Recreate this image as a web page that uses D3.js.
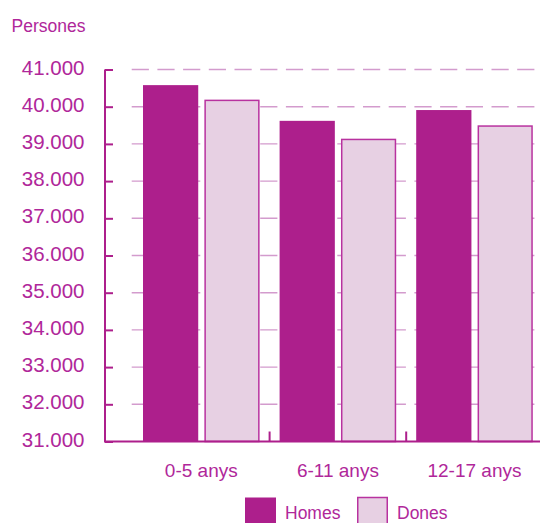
<!DOCTYPE html>
<html>
<head>
<meta charset="utf-8">
<script src="https://cdn.jsdelivr.net/npm/d3@7"></script>
<style>
  html, body { margin: 0; padding: 0; background: #ffffff; }
  svg { display: block; }
  .txt { font-family: "Liberation Sans", Arial, sans-serif; fill: #b0279a; }
  .num { font-family: "Liberation Sans", Arial, sans-serif; fill: #b0279a; }
</style>
</head>
<body>
<svg id="chart" width="540" height="523"></svg>
<script>
// Population by age group and sex
const categories = ["0-5 anys", "6-11 anys", "12-17 anys"];
const seriesNames = ["Homes", "Dones"];
const homes = [40580, 39620, 39910];
const dones = [40190, 39140, 39500];
const yTicks = [31000, 32000, 33000, 34000, 35000, 36000, 37000, 38000, 39000, 40000, 41000];
const yTitle = "Persones";

const MAGENTA = "#ad1f8c";
const PINK = "#e7d0e3";
const PINK_EDGE = "#b8329f";
const GRID = "#d39bcd";

const svg = d3.select("#chart");
const fmt = v => d3.format(",")(v).replace(/,/g, ".");

const y = d3.scaleLinear().domain([31000, 41000]).range([441.5, 69.5]);
const x = d3.scaleBand().domain(categories).range([133, 542.8]).padding(0);
const xInner = d3.scaleBand().domain(seriesNames).range([10, x.bandwidth() - 10]).paddingInner(0.1);

const axisX = 105;

// dashed horizontal grid
svg.append("g").selectAll("line").data(yTicks.slice(1)).join("line")
  .attr("x1", 131.7).attr("x2", 540)
  .attr("y1", d => y(d)).attr("y2", d => y(d))
  .attr("stroke", GRID).attr("stroke-width", 1.4)
  .attr("stroke-dasharray", "17.2,8.5");

// bars
const rows = categories.map((c, i) => ({ cat: c, values: [
  { key: "Homes", value: homes[i] },
  { key: "Dones", value: dones[i] }
]}));

const groups = svg.append("g").selectAll("g").data(rows).join("g")
  .attr("transform", d => `translate(${x(d.cat)},0)`);

groups.selectAll("rect").data(d => d.values).join("rect")
  .attr("x", d => xInner(d.key) + (d.key === "Dones" ? 0.75 : 0))
  .attr("width", d => xInner.bandwidth() - (d.key === "Dones" ? 1.5 : 0))
  .attr("y", d => y(d.value) + (d.key === "Dones" ? 0.75 : 0))
  .attr("height", d => y(31000) - y(d.value) - (d.key === "Dones" ? 0.75 : 0))
  .attr("fill", d => d.key === "Homes" ? MAGENTA : PINK)
  .attr("stroke", d => d.key === "Homes" ? "none" : PINK_EDGE)
  .attr("stroke-width", 1.5);

// left axis
const yAxis = d3.axisLeft(y).tickValues(yTicks).tickSize(-8).tickPadding(20).tickFormat(fmt);
const gy = svg.append("g").attr("transform", `translate(${axisX},0)`).call(yAxis);
gy.attr("font-family", null).attr("font-size", null);
gy.select(".domain").attr("stroke", MAGENTA).attr("stroke-width", 2).attr("d", `M0,${y(41000)}V${y(31000)}`);
gy.selectAll(".tick line").attr("stroke", MAGENTA).attr("stroke-width", 2);
gy.selectAll(".tick text")
  .attr("class", "num")
  .attr("x", -20.5)
  .attr("dy", null)
  .attr("y", 4.5)
  .attr("font-size", 20.5);

// bottom axis with separators between groups
svg.append("line")
  .attr("x1", axisX - 1).attr("x2", 540)
  .attr("y1", y(31000)).attr("y2", y(31000))
  .attr("stroke", MAGENTA).attr("stroke-width", 2);

svg.append("g").selectAll("line").data(categories.slice(1)).join("line")
  .attr("x1", d => x(d)).attr("x2", d => x(d))
  .attr("y1", y(31000)).attr("y2", y(31000) - 10)
  .attr("stroke", MAGENTA).attr("stroke-width", 2);

svg.append("g").selectAll("text").data(categories).join("text")
  .attr("class", "txt")
  .attr("x", d => x(d) + x.bandwidth() / 2)
  .attr("y", 476.5)
  .attr("text-anchor", "middle")
  .attr("font-size", 19)
  .text(d => d);

// axis title
svg.append("text").attr("class", "txt")
  .attr("x", 11.5).attr("y", 31.5)
  .attr("font-size", 17.5)
  .text(yTitle);

// legend
const legendX = [245, 357];
const leg = svg.append("g").selectAll("g").data(seriesNames).join("g")
  .attr("transform", (d, i) => `translate(${legendX[i]},0)`);
leg.append("rect")
  .attr("x", d => d === "Dones" ? 0.75 : 0)
  .attr("y", 497.5)
  .attr("width", d => d === "Dones" ? 29.5 : 31)
  .attr("height", 30)
  .attr("fill", d => d === "Homes" ? MAGENTA : PINK)
  .attr("stroke", d => d === "Homes" ? "none" : PINK_EDGE)
  .attr("stroke-width", 1.5);
leg.append("text").attr("class", "txt")
  .attr("x", 40).attr("y", 519)
  .attr("font-size", 17.5)
  .text(d => d);
</script>
</body>
</html>
